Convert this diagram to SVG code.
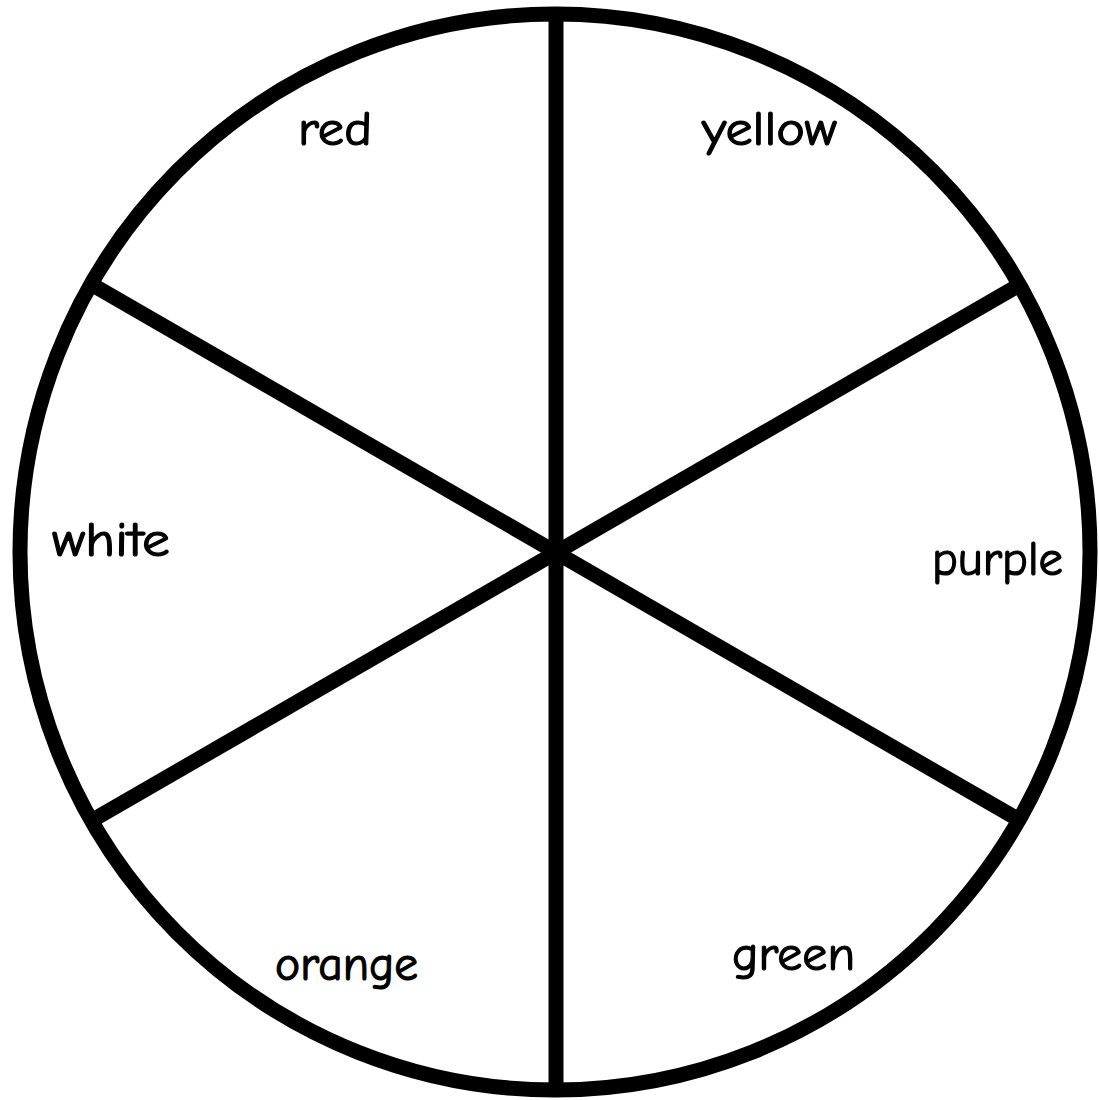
<svg xmlns="http://www.w3.org/2000/svg" width="1099" height="1100" viewBox="0 0 1099 1100">
  <style>
    .ln { stroke: #000; stroke-width: 15; fill: none; }
    .lbl { font-family: "Comic Neue", "Noto Sans", "DejaVu Sans", sans-serif; font-size: 48px; fill: #000; stroke: #000; stroke-width: 1.2; }
  </style>
  <rect width="1099" height="1100" fill="#fff"/>
  <g id="connectors">
    <line class="ln" x1="556" y1="14" x2="556" y2="1090"/>
    <line class="ln" x1="91" y1="284" x2="1021" y2="821"/>
    <line class="ln" x1="91" y1="821" x2="1021" y2="284"/>
  </g>
  <g id="wheel">
    <ellipse class="ln" cx="555" cy="552" rx="535" ry="538"/>
  </g>
  <g id="red"><text class="lbl" x="298" y="145" textLength="74" lengthAdjust="spacingAndGlyphs">red</text></g>
  <g id="yellow"><text class="lbl" x="702" y="145" textLength="135" lengthAdjust="spacingAndGlyphs">yellow</text></g>
  <g id="white"><text class="lbl" x="52" y="556" textLength="118" lengthAdjust="spacingAndGlyphs">white</text></g>
  <g id="purple"><text class="lbl" x="932" y="575" textLength="131" lengthAdjust="spacingAndGlyphs">purple</text></g>
  <g id="orange"><text class="lbl" x="275" y="980" textLength="143" lengthAdjust="spacingAndGlyphs">orange</text></g>
  <g id="green"><text class="lbl" x="732" y="970" textLength="123" lengthAdjust="spacingAndGlyphs">green</text></g>
</svg>
